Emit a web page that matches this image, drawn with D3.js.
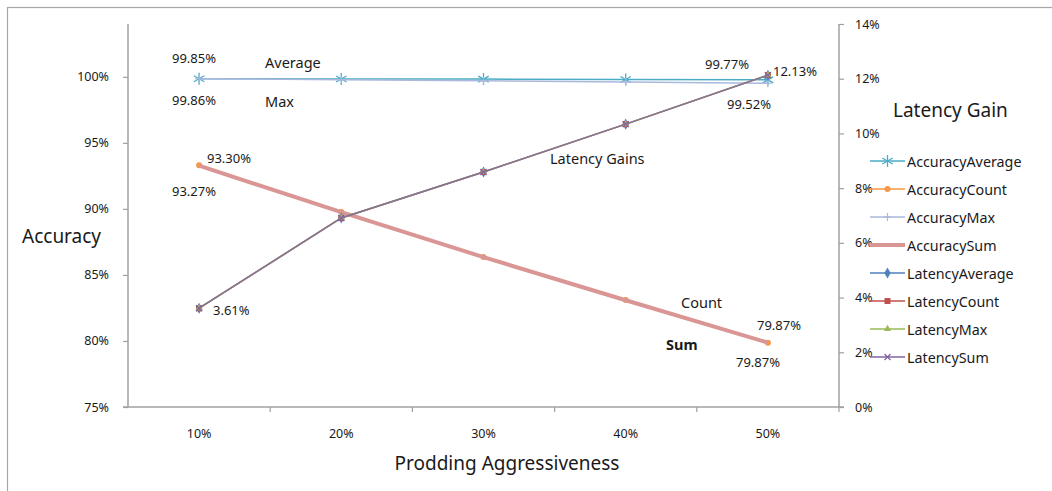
<!DOCTYPE html>
<html>
<head>
<meta charset="utf-8">
<script src="https://cdn.jsdelivr.net/npm/d3@7/dist/d3.min.js"></script>
<style>
  html, body { margin: 0; padding: 0; background: #fff; }
  svg { display: block; }
  text { font-family: "Noto Sans", "Open Sans", sans-serif; fill: #1a1a1a; }
</style>
</head>
<body>
<svg id="chart" width="1052" height="491"></svg>
<script>
// Prodding aggressiveness levels (x categories)
const categories = ["10%", "20%", "30%", "40%", "50%"];

// Accuracy series (left axis, percent)
const accuracyAverage = [99.85, 99.84, 99.83, 99.80, 99.77];
const accuracyCount   = [93.30, 89.77, 86.36, 83.10, 79.87];
const accuracyMax     = [99.86, 99.78, 99.70, 99.61, 99.52];
const accuracySum     = [93.27, 89.75, 86.35, 83.08, 79.87];

// Latency gain series (right axis, percent)
const latencyAverage = [3.61, 6.91, 8.59, 10.34, 12.13];
const latencyCount   = [3.61, 6.91, 8.59, 10.34, 12.13];
const latencyMax     = [3.61, 6.91, 8.59, 10.34, 12.13];
const latencySum     = [3.61, 6.91, 8.59, 10.34, 12.13];

// Axis tick values
const accuracyTicks = [75, 80, 85, 90, 95, 100];
const latencyTicks  = [0, 2, 4, 6, 8, 10, 12, 14];

const svg = d3.select("#chart");

// outer frame (top and left edges visible)
svg.append("rect").attr("x", 7.5).attr("y", 7.5).attr("width", 1100).attr("height", 600)
  .attr("fill", "none").attr("stroke", "#a6a6a6").attr("stroke-width", 1.2);

const plot = { left: 128, right: 839, top: 24, bottom: 407 };

const x = d3.scaleBand().domain(categories).range([plot.left, plot.right]);
const xc = d => x(d) + x.bandwidth() / 2;
const yL = d3.scaleLinear().domain([75, 104]).range([plot.bottom, plot.top]);
const yR = d3.scaleLinear().domain([0, 14]).range([plot.bottom, plot.top]);

const axisColor = "#a0a0a0";

// left axis
const gL = svg.append("g").attr("transform", `translate(${plot.left},0)`)
  .call(d3.axisLeft(yL).tickValues(accuracyTicks).tickSize(5).tickPadding(14)
    .tickFormat(d => d + "%"));
gL.select(".domain").attr("stroke", axisColor).attr("stroke-width", 1.5)
  .attr("d", `M0,${plot.top}V${plot.bottom}`);
gL.selectAll(".tick line").attr("stroke", axisColor).attr("stroke-width", 1.2);
gL.selectAll(".tick text").style("font-size", "12.5px").attr("fill", "#222");

// right axis
const gR = svg.append("g").attr("transform", `translate(${plot.right},0)`)
  .call(d3.axisRight(yR).tickValues(latencyTicks).tickSize(5).tickPadding(11)
    .tickFormat(d => d + "%"));
gR.select(".domain").attr("stroke", axisColor).attr("stroke-width", 1.5)
  .attr("d", `M0,${plot.top}V${plot.bottom}`);
gR.selectAll(".tick line").attr("stroke", axisColor).attr("stroke-width", 1.2);
gR.selectAll(".tick text").style("font-size", "12.5px").attr("fill", "#222");

// bottom axis with ticks at category boundaries
const gX = svg.append("g").attr("transform", `translate(0,${plot.bottom})`)
  .call(d3.axisBottom(x).tickSize(0).tickPadding(22));
gX.select(".domain").attr("stroke", axisColor).attr("stroke-width", 1.5)
  .attr("d", `M${plot.left - 5},0H${plot.right + 5}`);
gX.selectAll(".tick text").style("font-size", "12.5px").attr("fill", "#222");
gX.selectAll("line.sep").data(categories.slice(1).concat(["end"])).enter()
  .append("line").attr("class", "sep")
  .attr("x1", (d, i) => plot.left + x.bandwidth() * (i + 1))
  .attr("x2", (d, i) => plot.left + x.bandwidth() * (i + 1))
  .attr("y1", 0).attr("y2", 5).attr("stroke", axisColor).attr("stroke-width", 1.2);

// axis titles
svg.append("text").attr("x", 22).attr("y", 243).style("font-size", "19px").text("Accuracy");
svg.append("text").attr("x", 893).attr("y", 117).style("font-size", "19px").text("Latency Gain");
svg.append("text").attr("x", 507).attr("y", 470).attr("text-anchor", "middle")
  .style("font-size", "19px").text("Prodding Aggressiveness");

// marker drawing helpers
function marker(g, type, color, cx, cy, s) {
  if (type === "asterisk") {
    const r = s;
    [[0, 1], [0.87, 0.5], [0.87, -0.5]].forEach(([dx, dy]) => {
      g.append("line").attr("x1", cx - dx * r).attr("y1", cy - dy * r)
        .attr("x2", cx + dx * r).attr("y2", cy + dy * r)
        .attr("stroke", color).attr("stroke-width", 1.3);
    });
  } else if (type === "dot") {
    g.append("circle").attr("cx", cx).attr("cy", cy).attr("r", s).attr("fill", color);
  } else if (type === "plus") {
    g.append("line").attr("x1", cx).attr("x2", cx).attr("y1", cy - s).attr("y2", cy + s)
      .attr("stroke", color).attr("stroke-width", 1.2);
    g.append("line").attr("x1", cx - s).attr("x2", cx + s).attr("y1", cy).attr("y2", cy)
      .attr("stroke", color).attr("stroke-width", 1.2);
  } else if (type === "diamond") {
    g.append("path").attr("d", d3.symbol(d3.symbolDiamond, s * s * 2.2)())
      .attr("transform", `translate(${cx},${cy})`).attr("fill", color);
  } else if (type === "square") {
    g.append("rect").attr("x", cx - s).attr("y", cy - s).attr("width", 2 * s).attr("height", 2 * s)
      .attr("fill", color);
  } else if (type === "triangle") {
    g.append("path").attr("d", d3.symbol(d3.symbolTriangle, s * s * 2.5)())
      .attr("transform", `translate(${cx},${cy})`).attr("fill", color);
  } else if (type === "cross") {
    g.append("path").attr("d", `M${cx - s},${cy - s}L${cx + s},${cy + s}M${cx - s},${cy + s}L${cx + s},${cy - s}`)
      .attr("stroke", color).attr("stroke-width", 1.3);
  }
}

const series = [
  { name: "AccuracyAverage", values: accuracyAverage, axis: yL, color: "#4bacc6", width: 1.5, marker: "asterisk", ms: 6 },
  { name: "AccuracyCount",   values: accuracyCount,   axis: yL, color: "#f79646", width: 1.5, marker: "dot", ms: 3 },
  { name: "AccuracyMax",     values: accuracyMax,     axis: yL, color: "#aab8dc", width: 1.5, marker: "plus", ms: 4 },
  { name: "AccuracySum",     values: accuracySum,     axis: yL, color: "#d99694", width: 4, marker: null, ms: 0 },
  { name: "LatencyAverage",  values: latencyAverage,  axis: yR, color: "#4f81bd", width: 1.5, marker: "diamond", ms: 4 },
  { name: "LatencyCount",    values: latencyCount,    axis: yR, color: "#c0504d", width: 1.5, marker: "square", ms: 3 },
  { name: "LatencyMax",      values: latencyMax,      axis: yR, color: "#9bbb59", width: 1.5, marker: "triangle", ms: 3 },
  { name: "LatencySum",      values: latencySum,      axis: yR, color: "#8064a2", width: 1.5, marker: "cross", ms: 3 }
];

const lines = svg.append("g");
series.forEach(s => {
  const line = d3.line().x((d, i) => xc(categories[i])).y(d => s.axis(d));
  lines.append("path").datum(s.values).attr("d", line)
    .attr("fill", "none").attr("stroke", s.color).attr("stroke-width", s.width)
    .attr("stroke-opacity", s.name.startsWith("Latency") ? 0.75 : 1);
  if (s.marker) {
    s.values.forEach((v, i) => marker(lines, s.marker, s.color, xc(categories[i]), s.axis(v), s.ms));
  }
});

// data labels and annotations
const fmt = v => v.toFixed(2) + "%";
const labels = [
  { t: fmt(accuracyAverage[0]), x: 172, y: 63 },
  { t: "Average", x: 265, y: 68 },
  { t: fmt(accuracyMax[0]), x: 172, y: 105 },
  { t: "Max", x: 265, y: 107 },
  { t: fmt(accuracyCount[0]), x: 207, y: 163 },
  { t: fmt(accuracySum[0]), x: 172, y: 196 },
  { t: "Latency Gains", x: 550, y: 164 },
  { t: fmt(latencySum[0]), x: 213, y: 315 },
  { t: "Count", x: 681, y: 308 },
  { t: "Sum", x: 666, y: 350, bold: true },
  { t: fmt(accuracyCount[4]), x: 757, y: 330 },
  { t: fmt(accuracySum[4]), x: 736, y: 367 },
  { t: fmt(accuracyAverage[4]), x: 705, y: 69 },
  { t: fmt(latencyAverage[4]), x: 773, y: 76 },
  { t: fmt(accuracyMax[4]), x: 727, y: 109 }
];
svg.append("g").selectAll("text").data(labels).enter().append("text")
  .attr("x", d => d.x).attr("y", d => d.y)
  .style("font-size", d => d.t.endsWith("%") ? "13px" : "14.5px")
  .style("font-weight", d => d.bold ? "bold" : "normal")
  .text(d => d.t);

// legend
const legend = svg.append("g");
series.forEach((s, i) => {
  const ly = 161 + i * 28;
  legend.append("line").attr("x1", 870).attr("x2", 905).attr("y1", ly).attr("y2", ly)
    .attr("stroke", s.color).attr("stroke-width", s.width);
  if (s.marker) marker(legend, s.marker, s.color, 887.5, ly, s.ms);
  legend.append("text").attr("x", 907).attr("y", ly + 5.5).style("font-size", "14.3px").text(s.name);
});
</script>
</body>
</html>
